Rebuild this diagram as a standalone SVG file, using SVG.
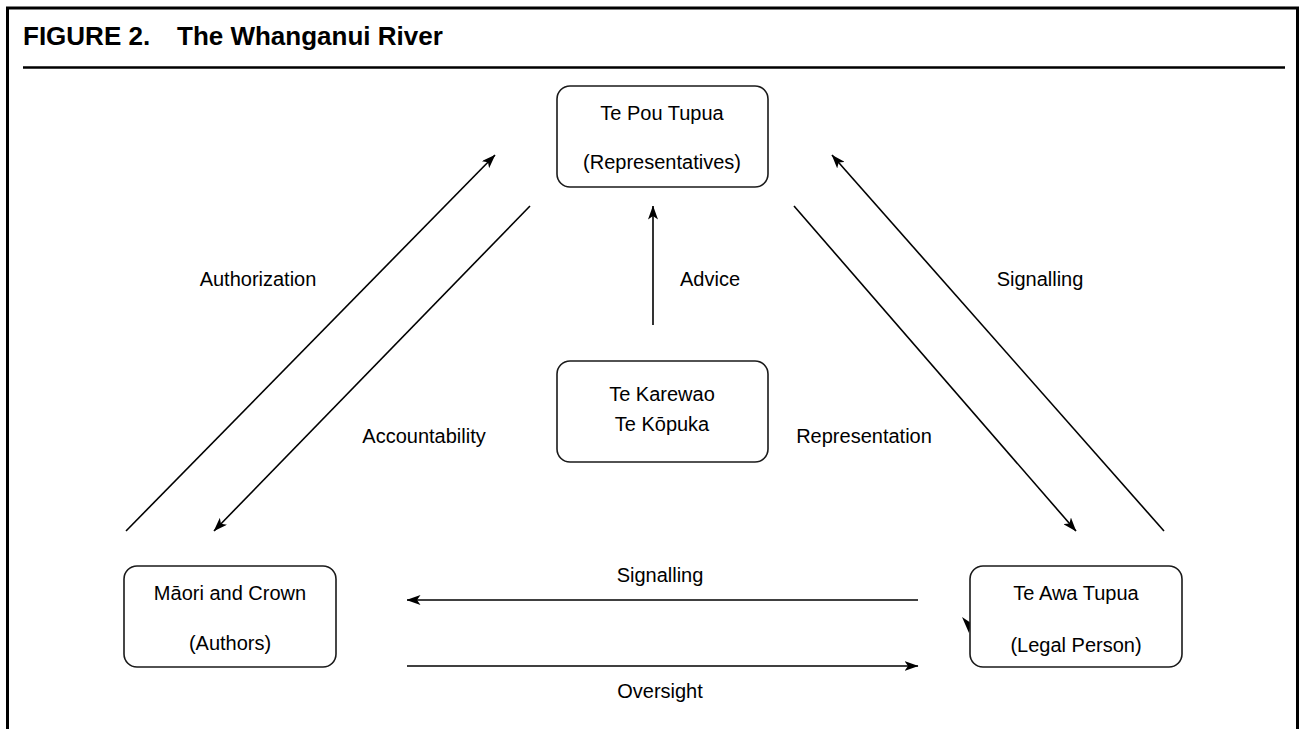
<svg xmlns="http://www.w3.org/2000/svg" width="1301" height="729" viewBox="0 0 1301 729">
<style>
.frame{fill:none;stroke:#000;stroke-width:3}
.box{fill:#fff;stroke:#1a1a1a;stroke-width:1.6}
.t{font-family:"Liberation Sans",Arial,Helvetica,sans-serif;font-size:20px;fill:#000;text-anchor:middle}
.title{font-family:"Liberation Sans",Arial,Helvetica,sans-serif;font-size:26px;font-weight:bold;fill:#000}
.edge{fill:none;stroke:#000;stroke-width:1.6;marker-end:url(#arr)}
</style>
<defs>
<marker id="arr" viewBox="0 0 14 10" refX="13.5" refY="5" markerWidth="14" markerHeight="10" orient="auto" markerUnits="userSpaceOnUse">
<path d="M0,0 L14,5 L0,10 L3.5,5 Z" fill="#000"/>
</marker>
</defs>
<rect width="1301" height="729" fill="#fff"/>
<g id="frame">
<path class="frame" d="M7.5,729 V8 H1297.5 V729"/>
<line x1="23" y1="67.5" x2="1285" y2="67.5" stroke="#000" stroke-width="2.5"/>
<text class="title" x="23" y="45">FIGURE 2.</text>
<text class="title" x="177" y="45">The Whanganui River</text>
</g>
<g id="connectors">
<line class="edge" x1="126" y1="531" x2="495" y2="155"/>
<line class="edge" x1="530" y1="206" x2="214" y2="531"/>
<line class="edge" x1="794" y1="206" x2="1076" y2="531"/>
<line class="edge" x1="1164" y1="531" x2="832" y2="155"/>
<line class="edge" x1="653" y1="325" x2="653" y2="206"/>
<line class="edge" x1="918" y1="600" x2="407" y2="600"/>
<line class="edge" x1="407" y1="666" x2="918" y2="666"/>
<polygon points="962,617 971,623 969,633" fill="#000"/>
<text class="t" x="258" y="286">Authorization</text>
<text class="t" x="424" y="443">Accountability</text>
<text class="t" x="710" y="286">Advice</text>
<text class="t" x="864" y="443">Representation</text>
<text class="t" x="1040" y="286">Signalling</text>
<text class="t" x="660" y="582">Signalling</text>
<text class="t" x="660" y="698">Oversight</text>
</g>
<g id="te-pou-tupua">
<rect class="box" x="557" y="86" width="211" height="101" rx="13"/>
<text class="t" x="662" y="120">Te Pou Tupua</text>
<text class="t" x="662" y="169">(Representatives)</text>
</g>
<g id="te-karewao">
<rect class="box" x="557" y="361" width="211" height="101" rx="13"/>
<text class="t" x="662" y="401">Te Karewao</text>
<text class="t" x="662" y="431">Te Kōpuka</text>
</g>
<g id="maori-crown">
<rect class="box" x="124" y="566" width="212" height="101" rx="13"/>
<text class="t" x="230" y="600">Māori and Crown</text>
<text class="t" x="230" y="650">(Authors)</text>
</g>
<g id="te-awa-tupua">
<rect class="box" x="970" y="566" width="212" height="101" rx="13"/>
<text class="t" x="1076" y="600">Te Awa Tupua</text>
<text class="t" x="1076" y="652">(Legal Person)</text>
</g>
</svg>
